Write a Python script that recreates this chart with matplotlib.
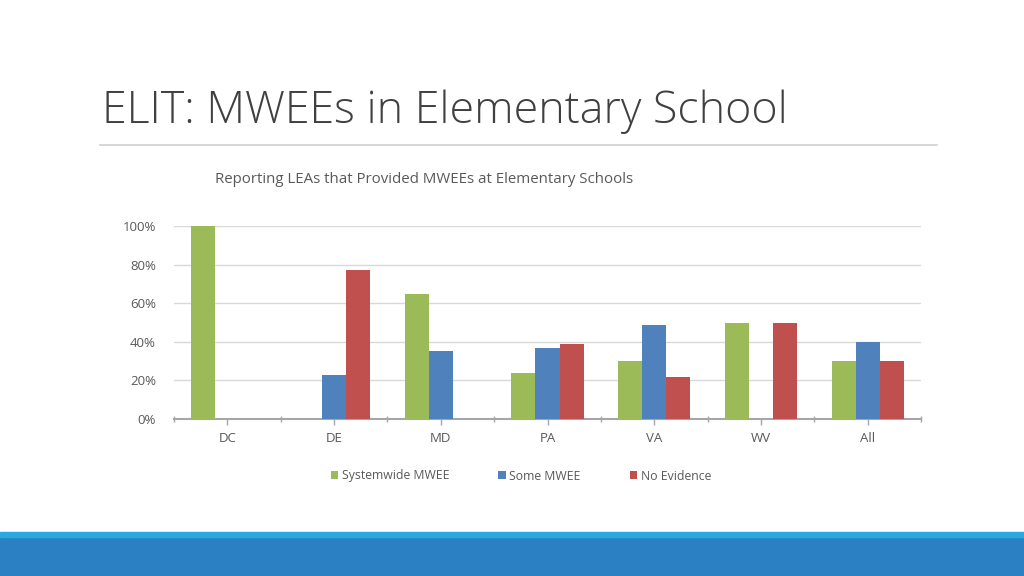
import numpy as np
import matplotlib.pyplot as plt
from matplotlib.patches import Rectangle
from matplotlib.lines import Line2D

states = ['DC', 'DE', 'MD', 'PA', 'VA', 'WV', 'All']
systemwide = [100, 0, 65, 24, 30, 50, 30]
some_mwee = [0, 23, 35, 37, 48.5, 0, 40]
no_evidence = [0, 77, 0, 39, 22, 50, 30]
series_names = ['Systemwide MWEE', 'Some MWEE', 'No Evidence']
colors = ['#9bbb59', '#4f81bd', '#c0504d']

fig = plt.figure(figsize=(10.24, 5.76), dpi=100)

# slide title and rule
fig.text(102 / 1024, 1 - 112 / 576, 'ELIT: MWEEs in Elementary School', fontsize=32.2,
         family='Open Sans', fontweight='light', color='#404040', va='center', ha='left')
fig.add_artist(Line2D([100 / 1024, 937 / 1024], [1 - 145 / 576] * 2, color='#d0d0d0', lw=1.2))

# bottom band
fig.add_artist(Rectangle((0, 0), 1, 39 / 576, transform=fig.transFigure, color='#2a80c2', zorder=0))
fig.add_artist(Rectangle((0, 39 / 576), 1, 5 / 576, transform=fig.transFigure, color='#29a9df', zorder=0))

ax = fig.add_axes([174 / 1024, 1 - 419 / 576, (921 - 174) / 1024, (419 - 226) / 576])

x = np.arange(len(states))
w = 0.225
for i, (vals, name) in enumerate(zip([systemwide, some_mwee, no_evidence], series_names)):
    ax.bar(x + (i - 1) * w, vals, w, color=colors[i], label=name, zorder=3)

ax.set_xlim(-0.5, len(states) - 0.5)
ax.set_ylim(0, 100)
ax.set_yticks(range(0, 101, 20))
ax.set_yticklabels([f'{v}%' for v in range(0, 101, 20)])
ax.yaxis.grid(True, color='#d9d9d9', lw=1)
ax.set_axisbelow(True)
for s in ['top', 'right', 'left']:
    ax.spines[s].set_visible(False)
ax.spines['bottom'].set_color('#a6a6a6')
ax.spines['bottom'].set_linewidth(1.5)
ax.tick_params(axis='y', length=0, pad=13, labelsize=9.5, labelcolor='#595959')
ax.set_xticks(x)
ax.set_xticklabels(states)
ax.tick_params(axis='x', length=4, color='#a6a6a6', width=1, pad=5, labelsize=9.5,
               labelcolor='#595959')
# boundary ticks crossing the axis
ax.set_xticks(np.arange(-0.5, len(states), 1), minor=True)
ax.tick_params(axis='x', which='minor', length=5, direction='inout', color='#a6a6a6', width=1)

for lab in ax.get_xticklabels() + ax.get_yticklabels():
    lab.set_family('Open Sans')

fig.text(424 / 1024, 1 - 179.5 / 576, 'Reporting LEAs that Provided MWEEs at Elementary Schools',
         fontsize=10.8, family='Open Sans', color='#595959', ha='center', va='center')

leg = fig.legend(loc='center', bbox_to_anchor=(521 / 1024, 1 - 476 / 576), ncol=3, frameon=False,
                 handlelength=0.6, handleheight=0.6, handletextpad=0.3, columnspacing=4.0,
                 prop={'family': 'Open Sans', 'size': 8.8})
for t in leg.get_texts():
    t.set_color('#595959')

fig.savefig('out.png', dpi=100)
